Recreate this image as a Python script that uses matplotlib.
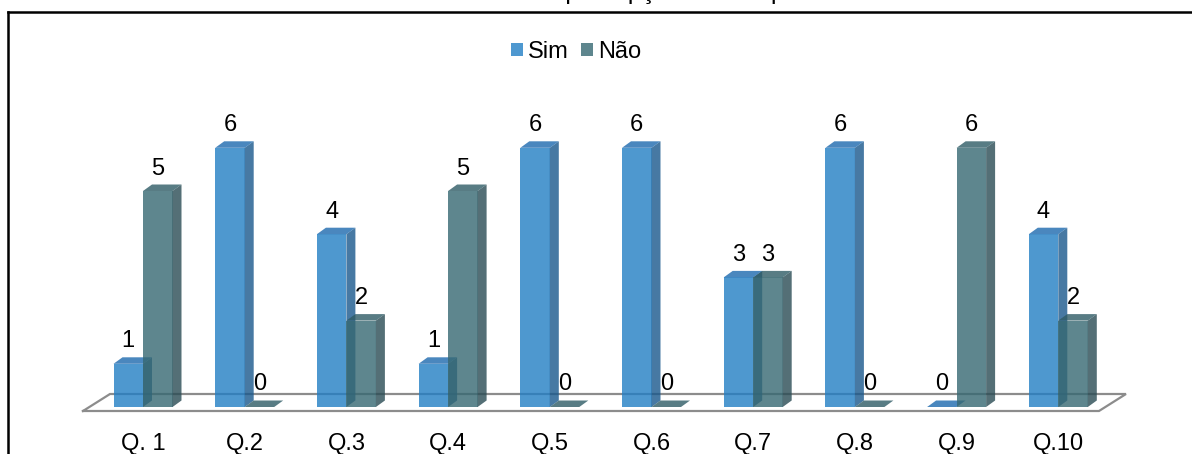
import matplotlib
matplotlib.use("Agg")
import matplotlib.pyplot as plt
from matplotlib.lines import Line2D
from matplotlib.patches import Patch
import matplotlib.colors as mcolors

# ---------------- data ----------------
categories = ["Q. 1", "Q.2", "Q.3", "Q.4", "Q.5", "Q.6", "Q.7", "Q.8", "Q.9", "Q.10"]
sim_values = [1, 6, 4, 1, 6, 6, 3, 6, 0, 4]
nao_values = [5, 0, 2, 5, 0, 0, 3, 0, 6, 2]
series_names = ["Sim", "Não"]
title_prefix = "Resultados da "
title_rest = "percepção do uso pelo aluno"

FONT = ["Liberation Sans Narrow", "Liberation Sans", "DejaVu Sans"]
plt.rcParams["font.family"] = FONT
FS = 17

# rendered (on white) target colours: front, side, top
ALPHA = 0.8
sim_cols = ["#4E98D0", "#4779A3", "#4A87BE"]
nao_cols = ["#5E868E", "#546F76", "#587C84"]


def base(c):
    r, g, b = mcolors.to_rgb(c)
    f = lambda t: min(1, max(0, (t - (1 - ALPHA)) / ALPHA))
    return (f(r), f(g), f(b))


W_PX, H_PX = 1192, 454
fig = plt.figure(figsize=(W_PX / 100, H_PX / 100), dpi=100)
ax = fig.add_axes([0, 0, 1, 1])
ax.set_axis_off()

# scale: category spacing, value unit size in px
x0_px, step_px = 143.0, 101.7
y0_px, unit_px = 407.0, 43.2
ax.set_xlim(-x0_px / step_px, (W_PX - x0_px) / step_px)
ax.set_ylim(-(H_PX - y0_px) / unit_px, y0_px / unit_px)

bw = 29.5 / step_px          # bar width in data units
ddx = 9.0 / step_px          # depth offset x
ddy = 6.5 / unit_px          # depth offset y

n = len(categories)
# floor
fdx, fdy = 27.0 / step_px, 17.0 / unit_px
fl, fr = -0.59, n - 1 + 0.40
fy = -4.0 / unit_px
floor_x = [fl, fr, fr + fdx, fl + fdx, fl]
floor_y = [fy, fy, fy + fdy, fy + fdy, fy]
ax.fill(floor_x, floor_y, color="white", zorder=1)
ax.plot(floor_x, floor_y, color="#8C8C8C", lw=1.6, zorder=2, solid_joinstyle="miter")


def bar3d(x, v, cols, z):
    front, side, top = [base(c) for c in cols]
    ax.fill([x, x + bw, x + bw, x], [0, 0, v, v], color=front, alpha=ALPHA, lw=0, zorder=z)
    ax.fill([x + bw, x + bw + ddx, x + bw + ddx, x + bw], [0, ddy, v + ddy, v],
            color=side, alpha=ALPHA, lw=0, zorder=z)
    ax.fill([x, x + bw, x + bw + ddx, x + ddx], [v, v, v + ddy, v + ddy],
            color=top, alpha=ALPHA, lw=0, zorder=z)


lab_gap = 10.0 / unit_px
for i in range(n):
    xs = i - bw
    xn = i
    bar3d(xs, sim_values[i], sim_cols, 3 + 2 * i)
    bar3d(xn, nao_values[i], nao_cols, 4 + 2 * i)
    ax.text(xs + bw / 2, sim_values[i] + ddy + lab_gap, str(sim_values[i]),
            ha="center", va="baseline", fontsize=FS, zorder=50)
    ax.text(xn + bw / 2, nao_values[i] + ddy + lab_gap, str(nao_values[i]),
            ha="center", va="baseline", fontsize=FS, zorder=50)
    ax.text(i, -(450.0 - y0_px) / unit_px, categories[i], ha="center", va="baseline",
            fontsize=FS, zorder=50)

# legend
handles = [Patch(facecolor=sim_cols[0], edgecolor="none"),
           Patch(facecolor=nao_cols[0], edgecolor="none")]
fig.legend(handles, series_names, loc="center", bbox_to_anchor=(576 / W_PX, 1 - 52 / H_PX),
           ncol=2, frameon=False, fontsize=FS, handlelength=0.5, handleheight=0.5,
           handletextpad=0.2, columnspacing=0.55, borderpad=0)

# clipped title (only descenders visible above the frame)
renderer = fig.canvas.get_renderer()
probe = fig.text(0, 0, title_prefix.replace(" ", "\u00a0"), fontsize=18)
pw = probe.get_window_extent(renderer).width
probe.remove()
fig.text((567 - 2 - pw) / W_PX, 1 + 0.5 / H_PX, title_prefix + title_rest,
         ha="left", va="baseline", fontsize=18)

# frame lines (top and left)
fig.add_artist(Line2D([8 / W_PX, 1], [1 - 12 / H_PX] * 2, transform=fig.transFigure,
                      color="black", lw=1.8))
fig.add_artist(Line2D([8 / W_PX, 8 / W_PX], [1 - 12 / H_PX, 0], transform=fig.transFigure,
                      color="black", lw=1.8))

fig.savefig("out.png", dpi=100)
